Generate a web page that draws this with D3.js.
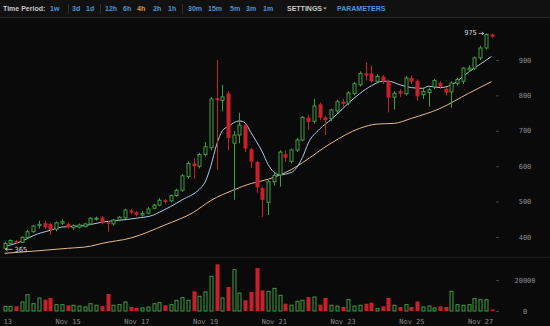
<!DOCTYPE html>
<html>
<head>
<meta charset="utf-8">
<script src="https://cdn.jsdelivr.net/npm/d3@7"></script>
<style>
  html, body { margin: 0; padding: 0; background: #0a0a0a; }
  svg { display: block; }
</style>
</head>
<body>
<div id="chart"></div>
<script>
// 4h candles, Nov 13 04:00 -> Nov 27 08:00 (UTC)
var startTime = Date.UTC(2013, 10, 13, 4);
var candleCount = 86;

var opens  = [368,382,389,385,399,415,432,439,437,422, 439,437,426,428,430,437,450,455,441,437,
              448,454,475,470,462,467,481,490,504,502, 517,532,571,608,600,633,652,792,786,806,
              665,688,716,648,612,538,498,556,575,634, 614,646,674,737,727,775,738,735,756,782,
              778,806,830,862,862,840,853,840,795,812, 805,849,841,802,808,824,835,819,810,834,
              840,872,877,906,934,972];
var highs  = [386,393,392,402,420,434,446,446,440,444, 450,441,436,438,440,456,458,459,445,451,
              459,480,480,473,474,484,494,510,507,520, 536,578,614,622,638,668,795,900,830,812,
              700,751,720,652,615,542,560,580,645,645, 650,680,742,745,790,780,742,762,788,790,
              812,838,868,893,885,860,858,845,812,818, 855,856,845,818,822,846,840,824,840,850,
              880,885,910,940,975,975];
var lows   = [365,378,381,383,396,412,424,422,406,416, 434,424,420,424,427,434,446,436,415,432,
              444,451,465,458,458,464,478,487,495,498, 514,528,565,565,594,628,645,590,755,645,
              505,665,640,595,525,457,462,545,542,612, 608,640,670,702,720,730,688,728,750,768,
              772,800,825,842,836,834,832,752,760,795, 800,832,785,790,768,818,818,800,765,828,
              832,866,872,900,930,962];
var closes = [382,390,384,399,415,431,436,427,420,440, 443,428,432,434,437,453,453,439,437,448,
              456,476,469,463,466,479,490,504,499,517, 532,573,608,600,633,655,790,786,796,680,
              688,716,650,613,540,505,556,574,640,624, 646,674,738,725,770,737,730,759,782,776,
              807,833,862,856,840,854,840,794,806,805, 849,839,797,811,816,842,825,808,835,845,
              877,877,906,934,972,966];
var volumes = [3000,3000,3000,5800,10500,4700,8400,7300,8400,4100, 4100,3700,3700,3200,2600,4700,3700,3200,11000,3700,
               4100,5800,2600,2000,2000,2600,4700,5400,3700,4100, 6900,8600,6900,12700,9500,12300,22400,30100,8400,15500,
               26700,11600,6900,12300,27700,13300,12700,14600,10100,4700, 3700,6200,6900,9000,9000,4100,8400,3700,3200,2600,
               7300,3200,3700,4700,5400,1500,3000,8400,3700,2600, 4100,2600,6200,2600,3200,2000,3000,2600,12700,4100,
               3700,4100,8000,7300,7300,1000];

// moving average lines: candle index + price
var maFastIdx = [0,3,5,8,10,14,17,20,23,26,27,29,31,34,35,36,37,38,39,41,42,43,45,46,48,50,52,53,55,57,59,60,62,64,66,67,69,71,73,74,76,78,79,81,83,85];
var maFastVal = [373,388,404,419,428,432,442,447,453,462,470,486,505,535,555,600,660,700,712,728,722,695,640,605,576,582,625,665,705,732,762,778,805,827,840,840,830,822,820,826,822,830,840,866,888,910];
var maSlowIdx = [0,5,11,15,17,22,28,33,36,40,43,46,48,50,52,57,62,65,68,71,76,81,85];
var maSlowVal = [354,360,368,374,382,397,434,470,503,533,551,563,575,590,610,665,707,719,721,735,763,806,839];

var priceTicks = [400,500,600,700,800,900];
var volumeTicks = [0,20000];
var periods = ['1w','3d','1d','12h','6h','4h','2h','1h','30m','15m','5m','3m','1m'];
var activePeriod = '4h';
var lowMark = {index: 0, value: 365};
var highMark = {index: 84, value: 975};

// toolbar layout
var periodX = [50,72,86,105,123,137,153,168,188,208,230,246,263];
var separatorX = [68,100,182];

var W = 550, H = 326;
var upColor = '#3f9e3f', downColor = '#c8202a';
var barFont = 'bold 7px "Liberation Sans", Arial, sans-serif';
var monoFont = '7px "DejaVu Sans Mono", monospace';

var times = d3.range(candleCount).map(function(i){ return new Date(startTime + i*4*3600e3); });
var candles = times.map(function(t, i){
  return {t: t, o: opens[i], h: highs[i], l: lows[i], c: closes[i], v: volumes[i]};
});

var x = d3.scaleUtc()
  .domain([new Date(Date.UTC(2013,10,13)), new Date(Date.UTC(2013,10,27))])
  .range([-1.2, 480.1]);
var y = d3.scaleLinear().domain([400, 900]).range([237, 60]);
var yv = d3.scaleLinear().domain([0, 20000]).range([311, 280]);

var svg = d3.select('#chart').append('svg')
  .attr('width', W).attr('height', H);

svg.append('rect').attr('width', W).attr('height', H).attr('fill', '#0a0a0a');

// toolbar
var bar = svg.append('g');
bar.append('rect').attr('width', W).attr('height', 17).attr('fill', '#111');
bar.append('line').attr('x1', 0).attr('x2', W).attr('y1', 17.5).attr('y2', 17.5)
  .attr('stroke', '#2a2a2a');
bar.append('text').attr('x', 3).attr('y', 10.5).text('Time Period:')
  .attr('fill', '#c8c8c8').style('font', barFont);
bar.selectAll('.sep').data(separatorX).enter().append('line')
  .attr('x1', function(d){ return d + 0.5; }).attr('x2', function(d){ return d + 0.5; })
  .attr('y1', 4).attr('y2', 14).attr('stroke', '#2e2e2e');
bar.selectAll('.per').data(periods).enter().append('text')
  .attr('x', function(d, i){ return periodX[i]; }).attr('y', 10.5)
  .attr('fill', function(d){ return d == activePeriod ? '#e8963a' : '#4d93d9'; })
  .style('font', barFont)
  .text(function(d){ return d; });
bar.append('text').attr('x', 287).attr('y', 10.5).text('SETTINGS')
  .attr('fill', '#c8c8c8').style('font', barFont);
bar.append('path').attr('d', 'M323,7.5 L327,7.5 L325,9.5 Z').attr('fill', '#aaa');
bar.append('text').attr('x', 337).attr('y', 10.5).text('PARAMETERS')
  .attr('fill', '#4d93d9').style('font', barFont);

// panel separator
svg.append('line').attr('x1', 0).attr('x2', W).attr('y1', 257.5).attr('y2', 257.5)
  .attr('stroke', '#1c1c1c');

// y axis labels
svg.append('g').selectAll('text').data(priceTicks).enter().append('text')
  .attr('x', 525).attr('y', function(d){ return y(d) + 2.5; })
  .attr('text-anchor', 'middle').attr('fill', '#8a8a8a').style('font', monoFont)
  .text(function(d){ return d; });
svg.append('g').selectAll('line').data(priceTicks).enter().append('line')
  .attr('x1', 496).attr('x2', 499)
  .attr('y1', function(d){ return y(d) + 0.5; }).attr('y2', function(d){ return y(d) + 0.5; })
  .attr('stroke', '#444');
svg.append('g').selectAll('text').data(volumeTicks).enter().append('text')
  .attr('x', 525).attr('y', function(d){ return yv(d) + 2.5; })
  .attr('text-anchor', 'middle').attr('fill', '#8a8a8a').style('font', monoFont)
  .text(function(d){ return d; });
svg.append('g').selectAll('line').data(volumeTicks).enter().append('line')
  .attr('x1', 496).attr('x2', 499)
  .attr('y1', function(d){ return yv(d) + 0.5; }).attr('y2', function(d){ return yv(d) + 0.5; })
  .attr('stroke', '#444');

// x axis
var xAxis = d3.axisBottom(x)
  .ticks(d3.utcDay.every(2))
  .tickFormat(d3.utcFormat('%b %d'))
  .tickSize(0);
var xg = svg.append('g').attr('transform', 'translate(0,315)').call(xAxis);
xg.select('.domain').remove();
xg.selectAll('text').attr('fill', '#8a8a8a').style('font', monoFont).attr('dy', '0.9em');

// moving averages
var maLine = d3.line()
  .x(function(d){ return x(times[d[0]]); })
  .y(function(d){ return y(d[1]); })
  .curve(d3.curveMonotoneX);
svg.append('path').datum(d3.zip(maSlowIdx, maSlowVal))
  .attr('d', maLine).attr('fill', 'none').attr('stroke', '#e3b98a').attr('stroke-width', 1);
svg.append('path').datum(d3.zip(maFastIdx, maFastVal))
  .attr('d', maLine).attr('fill', 'none').attr('stroke', '#a9cbe4').attr('stroke-width', 1);

// candles
var cg = svg.append('g').selectAll('g').data(candles).enter().append('g');
cg.append('line')
  .attr('x1', function(d){ return Math.round(x(d.t)) + 0.5; })
  .attr('x2', function(d){ return Math.round(x(d.t)) + 0.5; })
  .attr('y1', function(d){ return y(d.h); })
  .attr('y2', function(d){ return y(d.l); })
  .attr('stroke', function(d){ return d.c >= d.o ? upColor : downColor; });
cg.append('rect')
  .attr('x', function(d){ return d.c >= d.o ? Math.round(x(d.t)) - 1 : Math.round(x(d.t)) - 1.5; })
  .attr('y', function(d){ return y(Math.max(d.o, d.c)); })
  .attr('width', function(d){ return d.c >= d.o ? 3 : 4; })
  .attr('height', function(d){ return Math.max(1, Math.abs(y(d.o) - y(d.c))); })
  .attr('fill', function(d){ return d.c >= d.o ? '#0a0a0a' : downColor; })
  .attr('stroke', function(d){ return d.c >= d.o ? upColor : 'none'; })
  .attr('stroke-width', 1);

// volume
svg.append('g').selectAll('rect').data(candles).enter().append('rect')
  .attr('x', function(d){ return d.c >= d.o ? Math.round(x(d.t)) - 1 : Math.round(x(d.t)) - 1.5; })
  .attr('y', function(d){ return yv(d.v); })
  .attr('width', function(d){ return d.c >= d.o ? 3 : 4; })
  .attr('height', function(d){ return yv(0) - yv(d.v); })
  .attr('fill', function(d){ return d.c >= d.o ? 'none' : downColor; })
  .attr('stroke', function(d){ return d.c >= d.o ? upColor : 'none'; });

// high / low markers
var lx = x(times[lowMark.index]), ly = y(lowMark.value);
svg.append('path').attr('d', 'M' + (lx + 1) + ',' + ly + 'h7 M' + (lx + 1) + ',' + ly + 'l2,-1.5 M' + (lx + 1) + ',' + ly + 'l2,1.5')
  .attr('stroke', '#ccc').attr('stroke-width', 0.8).attr('fill', 'none');
svg.append('text').attr('x', lx + 10).attr('y', ly + 2.5).text(lowMark.value)
  .attr('fill', '#cfcfcf').style('font', monoFont);
var hx = x(times[highMark.index]), hy = y(highMark.value);
svg.append('path').attr('d', 'M' + (hx - 7) + ',' + hy + 'h5 M' + (hx - 2) + ',' + hy + 'l-2,-1.5 M' + (hx - 2) + ',' + hy + 'l-2,1.5')
  .attr('stroke', '#ccc').attr('stroke-width', 0.8).attr('fill', 'none');
svg.append('text').attr('x', hx - 9).attr('y', hy + 2).attr('text-anchor', 'end').text(highMark.value)
  .attr('fill', '#cfcfcf').style('font', monoFont);
</script>
</body>
</html>
